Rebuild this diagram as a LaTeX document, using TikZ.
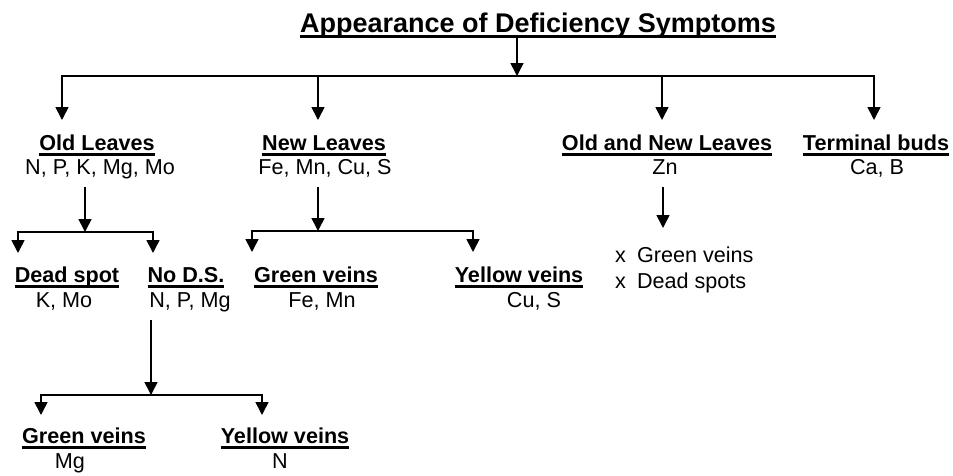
\documentclass[tikz,border=0pt]{standalone}
\usepackage{fontspec}
\setmainfont{Liberation Sans}
\usetikzlibrary{arrows.meta}
\newlength\ulwd
\newcommand{\ulhead}[1]{\settowidth{\ulwd}{\bfseries #1}\rlap{\rule[-6pt]{\ulwd}{2.8pt}}\textbf{#1}}
\tikzset{
  title/.style = {anchor=base, inner sep=0pt, font=\fontsize{27}{30}\selectfont},
  txt/.style   = {anchor=base, inner sep=0pt, font=\fontsize{21.6}{24}\selectfont},
  elem/.style  = {txt, inner ysep=8pt, text depth=5pt},
  ar/.style    = {-{Triangle[length=13pt,width=13pt]}, line width=1.6pt},
}
\begin{document}
\begin{tikzpicture}[x=1pt, y=-1pt]
  \useasboundingbox (0,0) rectangle (953,475);
  \node[title] (app) at (538,32) {\ulhead{Appearance of Deficiency Symptoms}};
  % first level
  \node[txt]  (old)    at (97,150)  {\ulhead{Old Leaves}};
  \node[elem] (oldel)  at (100,174) {N, P, K, Mg, Mo};
  \node[txt]  (new)    at (324,150) {\ulhead{New Leaves}};
  \node[elem] (newel)  at (325,174) {Fe, Mn, Cu, S};
  \node[txt]  (both)   at (667,150) {\ulhead{Old and New Leaves}};
  \node[elem] (bothel) at (665,174) {Zn};
  \node[txt]  (bud)    at (876,150) {\ulhead{Terminal buds}};
  \node[elem] (budel)  at (877,174) {Ca, B};
  % second level
  \node[txt]  (dead)   at (67,282)  {\ulhead{Dead spot}};
  \node[elem] (deadel) at (64,307)  {K, Mo};
  \node[txt]  (nods)   at (186,282) {\ulhead{No D.S.}};
  \node[elem] (nodsel) at (190,307) {N, P, Mg};
  \node[txt]  (gv)     at (316,282) {\ulhead{Green veins}};
  \node[elem] (gvel)   at (322,307) {Fe, Mn};
  \node[txt]  (yv)     at (519,282) {\ulhead{Yellow veins}};
  \node[elem] (yvel)   at (534,307) {Cu, S};
  \node[txt, anchor=base west] (zn1) at (615,262) {x\hspace{11pt}Green veins};
  \node[txt, anchor=base west] (zn2) at (615,288) {x\hspace{11pt}Dead spots};
  % third level
  \node[txt]  (gv2)    at (84,443)  {\ulhead{Green veins}};
  \node[elem] (gv2el)  at (70,468)  {Mg};
  \node[txt]  (yv2)    at (285,443) {\ulhead{Yellow veins}};
  \node[elem] (yv2el)  at (280,468) {N};
  % joints and arrow tips
  \coordinate (j0) at (517,76);
  \coordinate (t1) at (62,120);  \coordinate (t2) at (318,120);
  \coordinate (t3) at (662,120); \coordinate (t4) at (874,120);
  \coordinate (j1) at (85,232);
  \coordinate (t11) at (18,253); \coordinate (t12) at (153,253);
  \coordinate (j2) at (318,231);
  \coordinate (t21) at (252,252); \coordinate (t22) at (473,252);
  \coordinate (t31) at (663,228);
  \coordinate (j3) at (151,395);
  \coordinate (t41) at (41,415); \coordinate (t42) at (262,415);
  % connectors
  \draw[ar] (app.south -| j0) -- (j0);
  \foreach \t in {t1,t2,t3,t4} \draw[ar] (j0) -| (\t);
  \draw[ar] (oldel.south -| j1) -- (j1);
  \foreach \t in {t11,t12} \draw[ar] (j1) -| (\t);
  \draw[ar] (newel.south -| j2) -- (j2);
  \foreach \t in {t21,t22} \draw[ar] (j2) -| (\t);
  \draw[ar] (bothel.south -| t31) -- (t31);
  \draw[ar] (nodsel.south -| j3) -- (j3);
  \foreach \t in {t41,t42} \draw[ar] (j3) -| (\t);
\end{tikzpicture}
\end{document}
